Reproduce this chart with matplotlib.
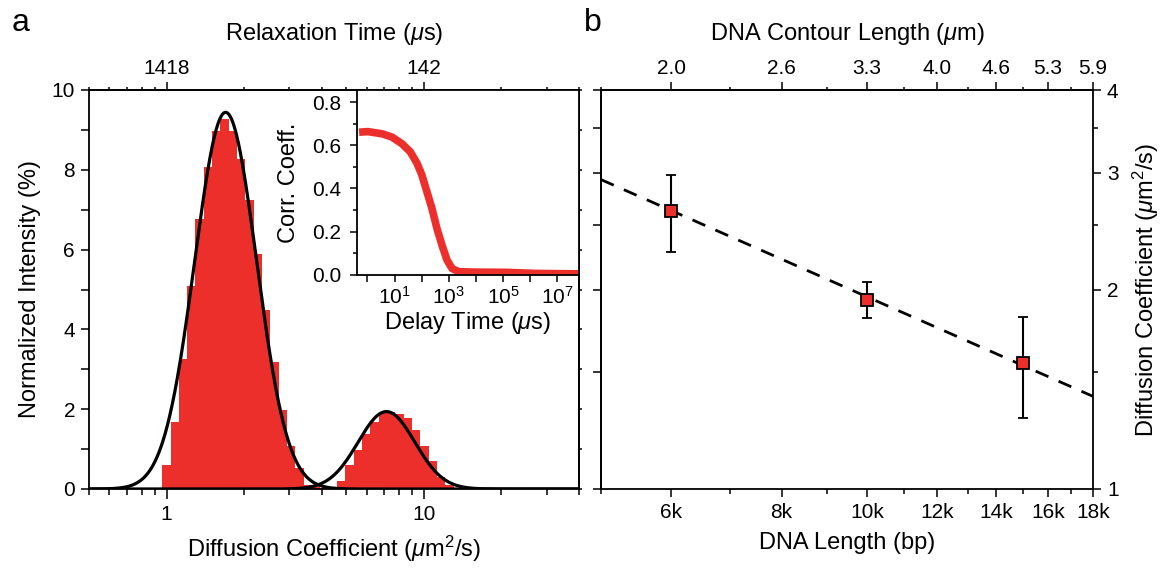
import numpy as np
import matplotlib
matplotlib.use("Agg")
import matplotlib.pyplot as plt
from matplotlib.ticker import FixedLocator, FixedFormatter, NullFormatter, NullLocator

plt.rcParams['font.family'] = ['Liberation Sans', 'DejaVu Sans']
plt.rcParams['mathtext.fontset'] = 'custom'
plt.rcParams['mathtext.rm'] = 'Liberation Sans'
plt.rcParams['mathtext.it'] = 'Liberation Sans:italic'
plt.rcParams['mathtext.bf'] = 'Liberation Sans:bold'
plt.rcParams['axes.linewidth'] = 1.3

RED = '#ED2F2C'
TICK_FS = 15
LABEL_FS = 17

# ---- panel a: distribution of diffusion coefficients (log-spaced bins) ----
bin_first_edge = 0.962          # um^2/s
bin_log_width = 0.03233         # decades per bin
intensity_pct = [0.60, 1.67, 3.27, 5.09, 6.77, 8.08, 8.98, 9.27, 8.98, 8.28,
                 7.25, 5.90, 4.49, 3.18, 1.98, 1.09, 0.52, 0.10, 0.04, 0.02,
                 0.03, 0.20, 0.60, 0.98, 1.39, 1.69, 1.90, 1.92, 1.87, 1.77,
                 1.48, 1.08, 0.69, 0.31, 0.10, 0.02]

# log-normal fits of the two populations
fit_amplitude = [9.44, 1.94]
fit_center = [1.697, 7.15]
fit_log_sigma = [0.12, 0.11]

diff_major = [1, 10]
diff_major_labels = ['1', '10']
diff_minor = [0.5, 0.6, 0.7, 0.8, 0.9, 2, 3, 4, 5, 6, 7, 8, 9, 20, 30, 40]
relax_labels = ['1418', '142']

# inset: autocorrelation
delay_time_us = [0.49, 1.02, 3.4, 7.9, 18.6, 38, 68, 102, 157, 240, 367, 562,
                 861, 1318, 2290, 9550, 1.23e5, 1.58e6, 8.7e6, 6.0e7]
corr_coef = [0.661, 0.664, 0.654, 0.639, 0.608, 0.570, 0.516, 0.462, 0.384,
             0.307, 0.214, 0.137, 0.068, 0.029, 0.014, 0.012, 0.011, 0.006,
             0.005, 0.004]

# ---- panel b: diffusion coefficient vs DNA length ----
dna_bp = [6000, 10000, 15000]
diff_coef = [2.63, 1.93, 1.55]
diff_err = [0.35, 0.12, 0.27]
scaling_ref_bp = 5000
scaling_prefactor = 2.93
scaling_exponent = -0.588

bp_major = [6000, 8000, 10000, 12000, 14000, 16000, 18000]
bp_labels = ['6k', '8k', '10k', '12k', '14k', '16k', '18k']
bp_minor = [5000, 7000, 9000, 11000, 13000, 15000, 17000]
contour_labels = ['2.0', '2.6', '3.3', '4.0', '4.6', '5.3', '5.9']
dcoef_major = [1, 2, 3, 4]
dcoef_labels = ['1', '2', '3', '4']
dcoef_minor = [1.5, 2.5, 3.5]

W, H = 1170, 570
fig = plt.figure(figsize=(W / 100, H / 100), dpi=100)


def px_axes(x0, y0, x1, y1, **kw):
    return fig.add_axes([x0 / W, 1 - y1 / H, (x1 - x0) / W, (y1 - y0) / H], **kw)


# ================= panel a =================
ax = px_axes(89, 90, 579, 489)
edges = bin_first_edge * 10 ** (bin_log_width * np.arange(len(intensity_pct) + 1))
ax.bar(edges[:-1], intensity_pct, width=np.diff(edges), align='edge',
       color=RED, linewidth=0)
ax.set_xscale('log')
ax.set_xlim(0.5, 40)
ax.set_ylim(0, 10)
dgrid = np.logspace(np.log10(0.5), np.log10(40), 800)
for amp, cen, sig in zip(fit_amplitude, fit_center, fit_log_sigma):
    ax.plot(dgrid, amp * np.exp(-(np.log10(dgrid / cen)) ** 2 / (2 * sig ** 2)),
            color='black', lw=2.3, zorder=3)

ax.xaxis.set_major_locator(FixedLocator(diff_major))
ax.xaxis.set_major_formatter(FixedFormatter(diff_major_labels))
ax.xaxis.set_minor_locator(FixedLocator(diff_minor))
ax.xaxis.set_minor_formatter(NullFormatter())
ax.set_yticks([0, 2, 4, 6, 8, 10])
ax.set_yticks([1, 3, 5, 7, 9], minor=True)
ax.tick_params(axis='x', which='major', direction='out', length=7.5, width=1.1,
               labelsize=TICK_FS, pad=4)
ax.tick_params(axis='x', which='minor', direction='out', length=4.5, width=1.1)
ax.tick_params(axis='y', which='both', direction='out', length=6, width=1.1,
               labelsize=TICK_FS, pad=4)
ax.set_xlabel(r'Diffusion Coefficient ($\mu$m$^2$/s)', fontsize=LABEL_FS, labelpad=7)
ax.set_ylabel('Normalized Intensity (%)', fontsize=LABEL_FS, labelpad=8)

top = ax.secondary_xaxis('top')
top.set_xticks(diff_major, labels=relax_labels)
top.set_xticks(diff_minor, minor=True)
top.xaxis.set_minor_formatter(NullFormatter())
top.tick_params(axis='x', which='major', direction='out', length=5.5, width=1.1,
                labelsize=TICK_FS, pad=3)
top.tick_params(axis='x', which='minor', direction='out', length=2.5, width=1.1)
top.set_xlabel(r'Relaxation Time ($\mu$s)', fontsize=LABEL_FS, labelpad=14)

rgt = ax.secondary_yaxis('right')
rgt.set_yticks(range(11))
rgt.tick_params(axis='y', direction='out', length=2.5, width=1.1, labelright=False)

# inset: correlation decay
ins = px_axes(356.7, 90, 579, 274.7)
ins.set_facecolor('white')
ins.plot(delay_time_us, corr_coef, color=RED, lw=5.5, solid_capstyle='butt',
         solid_joinstyle='miter')
ins.set_xscale('log')
ins.set_xlim(0.4, 6.4e7)
ins.set_ylim(0, 0.857)
decades = [10.0 ** k for k in range(8)]
ins.xaxis.set_major_locator(FixedLocator(decades))
ins.xaxis.set_major_formatter(FixedFormatter(
    ['' if k % 2 == 0 else r'$\mathregular{10^{%d}}$' % k for k in range(8)]))
ins.xaxis.set_minor_locator(NullLocator())
ins.set_yticks([0, 0.2, 0.4, 0.6, 0.8], labels=['0.0', '0.2', '0.4', '0.6', '0.8'])
ins.set_yticks([0.1, 0.3, 0.5, 0.7], minor=True)
ins.tick_params(axis='x', which='major', direction='out', length=5, width=1.1,
                labelsize=TICK_FS, pad=3)
ins.tick_params(axis='y', which='major', direction='out', length=5, width=1.1,
                labelsize=TICK_FS, pad=6)
ins.tick_params(axis='y', which='minor', direction='out', length=3, width=1.1)
ins.set_xlabel(r'Delay Time ($\mu$s)', fontsize=LABEL_FS, labelpad=2)
ins.set_ylabel('Corr. Coeff.', fontsize=LABEL_FS, labelpad=9)

# ================= panel b =================
axr = px_axes(601, 90, 1093, 489)
axr.set_xscale('log')
axr.set_yscale('log')
axr.set_xlim(5000, 18000)
axr.set_ylim(1, 4)
nfit = np.array([5000, 18000])
axr.plot(nfit, scaling_prefactor * (nfit / scaling_ref_bp) ** scaling_exponent,
         color='black', lw=2, ls=(0, (5, 4)), zorder=2)
axr.errorbar(dna_bp, diff_coef, yerr=diff_err, fmt='s', ms=9, mfc=RED, mec='black',
             mew=1.3, ecolor='black', elinewidth=1.5, capsize=3.6, capthick=1.5,
             zorder=3)

axr.xaxis.set_major_locator(FixedLocator(bp_major))
axr.xaxis.set_major_formatter(FixedFormatter(bp_labels))
axr.xaxis.set_minor_locator(FixedLocator(bp_minor))
axr.xaxis.set_minor_formatter(NullFormatter())
axr.yaxis.set_major_locator(FixedLocator(dcoef_major))
axr.yaxis.set_major_formatter(FixedFormatter(dcoef_labels))
axr.yaxis.set_minor_locator(FixedLocator(dcoef_minor))
axr.yaxis.set_minor_formatter(NullFormatter())
axr.yaxis.tick_right()
axr.yaxis.set_label_position('right')
axr.tick_params(axis='both', which='major', direction='out', length=6, width=1.1,
                labelsize=TICK_FS, pad=4)
axr.tick_params(axis='both', which='minor', direction='out', length=3.5, width=1.1)
axr.set_xlabel('DNA Length (bp)', fontsize=LABEL_FS, labelpad=7)
axr.set_ylabel(r'Diffusion Coefficient ($\mu$m$^2$/s)', fontsize=LABEL_FS, labelpad=9)

topr = axr.secondary_xaxis('top')
topr.set_xticks(bp_major, labels=contour_labels)
topr.set_xticks(bp_minor, minor=True)
topr.xaxis.set_minor_formatter(NullFormatter())
topr.tick_params(axis='x', which='major', direction='out', length=5.5, width=1.1,
                 labelsize=TICK_FS, pad=3)
topr.tick_params(axis='x', which='minor', direction='out', length=2.5, width=1.1)
topr.set_xlabel(r'DNA Contour Length ($\mu$m)', fontsize=LABEL_FS, labelpad=14)

lft = axr.secondary_yaxis('left')
lft.set_yticks(dcoef_major + dcoef_minor)
lft.yaxis.set_minor_locator(NullLocator())
lft.tick_params(axis='y', which='both', direction='out', length=6, width=1.1,
                labelleft=False)

fig.text(12 / W, 1 - 31 / H, 'a', fontsize=23, va='baseline')
fig.text(584 / W, 1 - 31 / H, 'b', fontsize=23, va='baseline')

fig.savefig('out.png', dpi=100)
